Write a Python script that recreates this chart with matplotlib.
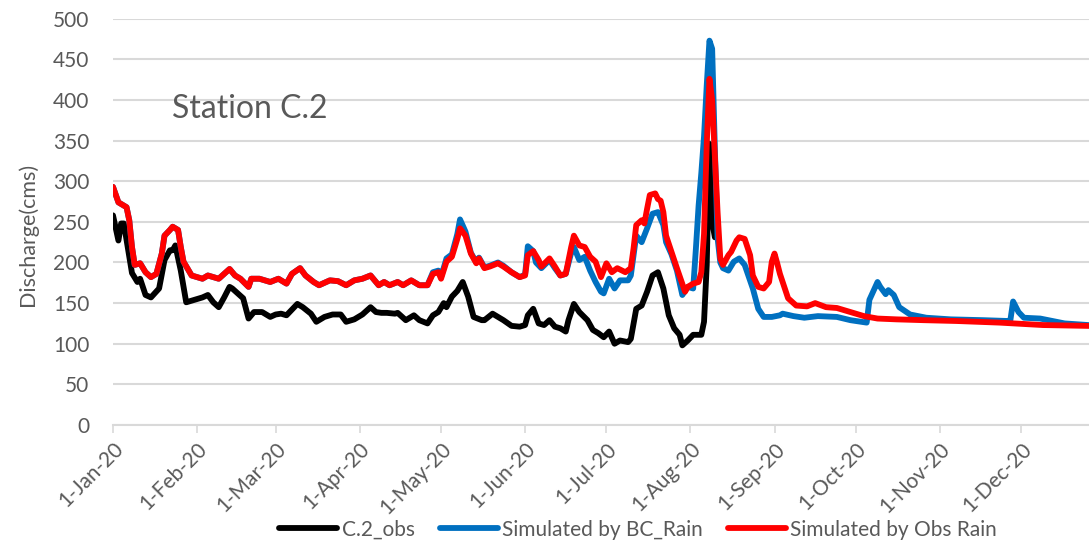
import matplotlib
matplotlib.use("Agg")
import matplotlib.pyplot as plt
import pandas as pd
import numpy as np

plt.rcParams["font.family"] = ["Lato", "DejaVu Sans"]

# day of year offsets (from 1-Jan-2020) and discharge values
obs_days = [0, 2, 3, 4, 7, 9, 10, 12, 14, 17, 19, 21, 22, 23, 25, 27, 30, 33, 35, 37,
            39, 41, 43, 44, 46, 48, 50, 52, 55, 58, 60, 62, 64, 68, 70, 73, 75, 78, 81, 84,
            86, 89, 92, 95, 97, 99, 101, 104, 105, 108, 111, 113, 116, 118, 120, 122, 123, 125, 127, 129,
            131, 133, 136, 137, 140, 144, 147, 150, 152, 153, 155, 157, 159, 161, 163, 165, 167, 168, 170, 172,
            175, 177, 179, 181, 183, 185, 187, 190, 191, 193, 195, 197, 199, 201, 203, 205, 207, 209, 210, 212,
            214, 217, 218, 219, 220, 221, 222]
obs_q = [258, 227, 248, 248, 187, 176, 180, 160, 157, 168, 203, 215, 215, 221, 190, 151, 154, 157, 160, 151,
         145, 157, 170, 168, 162, 156, 131, 139, 139, 133, 136, 137, 135, 149, 145, 137, 127, 133, 136, 136,
         127, 130, 136, 145, 139, 138, 138, 137, 138, 129, 135, 129, 125, 135, 139, 150, 145, 158, 165, 176,
         158, 133, 129, 129, 137, 129, 122, 121, 123, 135, 143, 125, 123, 129, 121, 119, 115, 129, 149, 139,
         129, 117, 113, 108, 115, 100, 104, 102, 106, 143, 147, 164, 184, 188, 168, 135, 119, 111, 98, 104,
         111, 111, 127, 197, 346, 250, 231]

obsrain_days = [0, 2, 5, 6, 7, 8, 10, 12, 14, 16, 18, 19, 21, 22, 24, 25, 26, 29, 31, 33,
                35, 39, 43, 45, 47, 50, 51, 54, 58, 61, 64, 66, 69, 71, 74, 76, 80, 83, 86, 89,
                92, 95, 98, 100, 102, 105, 107, 110, 113, 116, 118, 120, 121, 123, 125, 127, 128, 130, 132, 134,
                135, 137, 139, 142, 144, 147, 150, 152, 153, 155, 157, 158, 161, 163, 165, 167, 169, 170, 172, 174,
                176, 178, 180, 182, 184, 186, 189, 191, 192, 193, 195, 196, 197, 198, 200, 201, 202, 203, 204, 206,
                208, 211, 212, 214, 216, 217, 218, 219, 220, 221, 222, 223, 224, 225, 227, 228, 230, 231, 233, 235,
                236, 238, 240, 242, 243, 244, 245, 246, 249, 252, 256, 259, 263, 267, 272, 277, 282, 289, 299, 311,
                327, 343, 360, 365]
obsrain_q = [293, 274, 268, 252, 219, 197, 199, 188, 182, 186, 211, 233, 240, 244, 240, 219, 201, 184, 182, 180,
             184, 180, 192, 184, 180, 170, 180, 180, 176, 180, 174, 186, 193, 184, 176, 172, 178, 177, 172, 178,
             180, 184, 172, 176, 172, 176, 172, 178, 172, 172, 186, 188, 180, 201, 207, 229, 242, 233, 211, 199,
             205, 193, 195, 199, 195, 188, 182, 184, 209, 214, 203, 195, 205, 195, 184, 186, 219, 233, 221, 219,
             207, 201, 182, 199, 188, 193, 188, 193, 217, 246, 252, 248, 266, 283, 285, 278, 276, 262, 233, 213,
             193, 164, 170, 174, 176, 188, 235, 345, 426, 400, 330, 262, 205, 197, 209, 213, 227, 231, 229, 209,
             184, 170, 168, 176, 201, 211, 199, 186, 156, 147, 146, 150, 145, 144, 139, 134, 131, 130, 129, 128,
             126, 123, 122, 121]

bc_days = [0, 2, 5, 6, 7, 8, 10, 12, 14, 16, 18, 19, 21, 22, 24, 25, 26, 29, 31, 33,
           35, 39, 43, 45, 47, 50, 51, 54, 58, 61, 64, 66, 69, 71, 74, 76, 80, 83, 86, 89,
           92, 95, 98, 100, 102, 105, 107, 110, 113, 116, 118, 120, 121, 123, 125, 127, 128, 130, 132, 134,
           135, 137, 139, 142, 144, 147, 150, 152, 153, 155, 156, 158, 161, 163, 165, 167, 169, 170, 172, 174,
           176, 178, 180, 181, 183, 185, 187, 190, 191, 193, 195, 197, 199, 201, 203, 204, 206, 208, 210, 212,
           214, 215, 216, 217, 218, 219, 220, 221, 222, 223, 224, 225, 227, 229, 231, 233, 236, 238, 240, 243,
           246, 247, 251, 255, 260, 267, 272, 278, 279, 282, 283, 285, 286, 288, 290, 294, 300, 309, 321, 330,
           331, 332, 334, 336, 342, 351, 360, 365]
bc_q = [293, 274, 268, 252, 219, 197, 199, 188, 182, 186, 211, 233, 240, 244, 240, 219, 201, 184, 182, 180,
        184, 180, 192, 184, 180, 170, 180, 180, 176, 180, 174, 186, 193, 184, 176, 172, 178, 177, 172, 178,
        180, 184, 172, 176, 172, 176, 172, 178, 172, 172, 188, 190, 182, 205, 210, 235, 253, 238, 212, 200,
        206, 194, 196, 200, 196, 188, 182, 185, 220, 214, 200, 193, 203, 193, 184, 186, 212, 219, 203, 207,
        190, 176, 164, 162, 180, 168, 178, 178, 184, 233, 225, 242, 260, 262, 246, 225, 210, 190, 160, 170,
        168, 217, 270, 310, 355, 418, 473, 463, 340, 230, 200, 193, 190, 201, 205, 197, 168, 143, 133, 133,
        135, 137, 134, 132, 134, 133, 129, 126, 154, 176, 170, 161, 166, 160, 145, 136, 132, 130, 129, 128,
        129, 152, 139, 132, 131, 125, 123, 121]

month_labels = ["1-Jan-20", "1-Feb-20", "1-Mar-20", "1-Apr-20", "1-May-20", "1-Jun-20",
                "1-Jul-20", "1-Aug-20", "1-Sep-20", "1-Oct-20", "1-Nov-20", "1-Dec-20"]

start = pd.Timestamp("2020-01-01")


def to_dates(days):
    return start + pd.to_timedelta(days, unit="D")


grey = "#595959"
grid = "#D9D9D9"

fig = plt.figure(figsize=(10.89, 5.53), dpi=100)
ax = fig.add_axes([113 / 1089, 1 - 425 / 553, 1 - 113 / 1089, (425 - 18.7) / 553])

lw = 4.2
ax.plot(to_dates(obs_days), obs_q, color="black", lw=lw, label="C.2_obs", zorder=3,
        solid_joinstyle="round", solid_capstyle="round")
ax.plot(to_dates(bc_days), bc_q, color="#0070C0", lw=lw, label="Simulated by BC_Rain", zorder=4,
        solid_joinstyle="round", solid_capstyle="round")
ax.plot(to_dates(obsrain_days), obsrain_q, color="#FF0000", lw=lw, label="Simulated by Obs Rain", zorder=5,
        solid_joinstyle="round", solid_capstyle="round")

ax.set_ylim(0, 500)
ax.set_yticks(np.arange(0, 501, 50))
ax.set_xlim(start, start + pd.Timedelta(days=360))
ticks = pd.date_range("2020-01-01", periods=12, freq="MS")
ax.set_xticks(ticks)
ax.set_xticklabels(month_labels, rotation=45, ha="right", rotation_mode="anchor")

ax.grid(axis="y", color=grid, lw=1.5)
ax.set_axisbelow(True)
for s in ["top", "right", "left"]:
    ax.spines[s].set_visible(False)
ax.spines["bottom"].set_color(grid)
ax.spines["bottom"].set_linewidth(1.5)
ax.tick_params(axis="y", length=0, pad=17, labelsize=15, labelcolor=grey)
ax.tick_params(axis="x", length=6, width=1.2, color=grid, pad=4, labelsize=15, labelcolor=grey)

ax.set_ylabel("Discharge(cms)", fontsize=15.5, color=grey)
ax.yaxis.set_label_coords(-0.077, 0.47)

ax.text(0.06, 0.755, "Station C.2", transform=ax.transAxes, fontsize=23, color=grey)

fig.legend(loc="lower center", bbox_to_anchor=(0.586, -0.01), ncol=3, frameon=False,
           fontsize=15, handlelength=2.8, handletextpad=0.2, columnspacing=1.2,
           labelcolor=grey)

fig.savefig("out.png", dpi=100)
